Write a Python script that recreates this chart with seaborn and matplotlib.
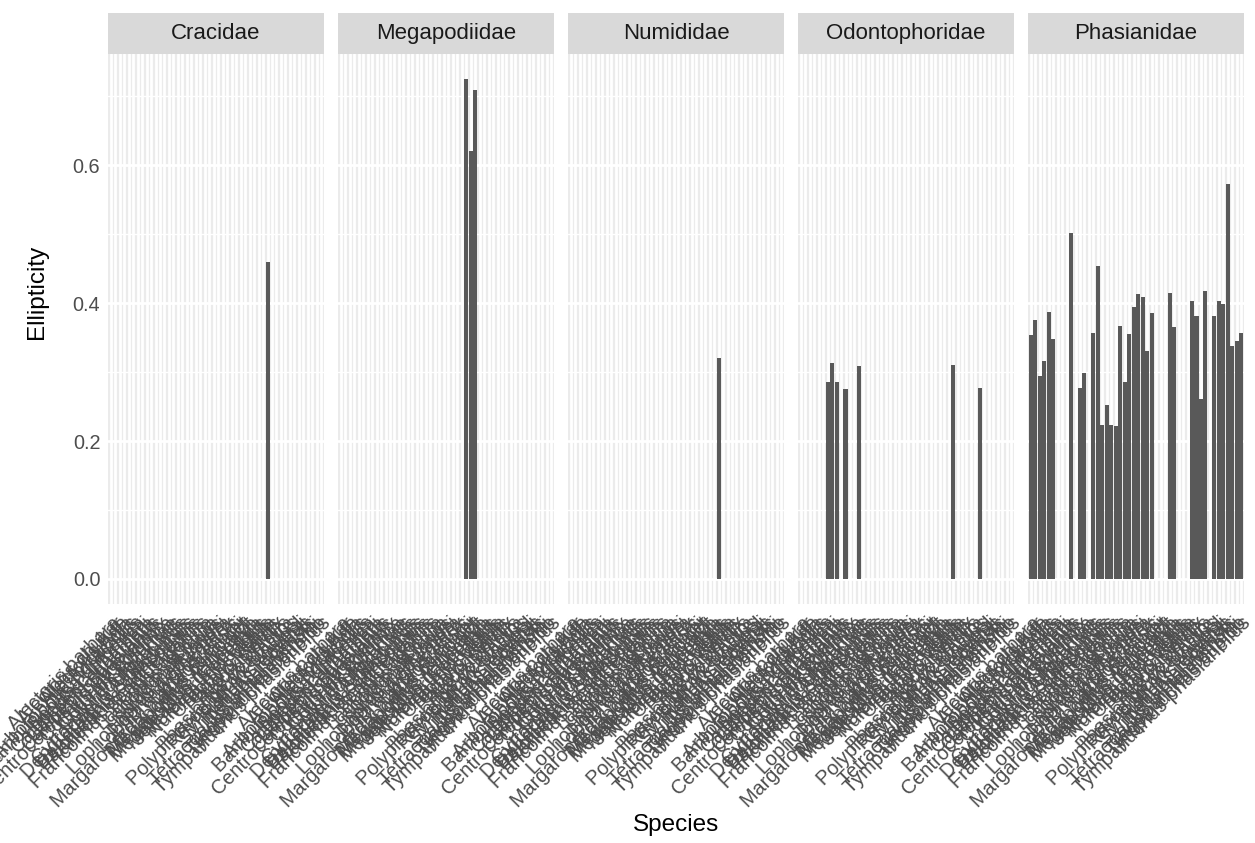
import numpy as np
import pandas as pd
import matplotlib
matplotlib.use("Agg")
import matplotlib.pyplot as plt
import seaborn as sns

species = [
    "Alectoris barbara", "Alectoris chukar", "Alectoris rufa", "Arborophila torqueola",
    "Bambusicola thoracicus", "Bonasa umbellus", "Callipepla californica", "Callipepla gambelii",
    "Callipepla squamata", "Centrocercus urophasianus", "Colinus virginianus", "Coturnix coturnix",
    "Coturnix japonica", "Cyrtonyx montezumae", "Dendragapus fuliginosus", "Dendragapus obscurus",
    "Falcipennis canadensis", "Francolinus francolinus", "Francolinus pondicerianus", "Gallus gallus",
    "Lagopus lagopus", "Lagopus leucura", "Lagopus muta", "Lophophorus impejanus",
    "Lophura edwardsi", "Lophura nycthemera", "Lyrurus tetrix", "Margaroperdix madagarensis",
    "Megapodius cumingii", "Megapodius freycinet", "Megapodius reinwardt", "Meleagris gallopavo",
    "Meleagris ocellata", "Numida meleagris", "Oreortyx pictus", "Ortalis vetula",
    "Pavo cristatus", "Perdix perdix", "Phasianus colchicus", "Polyplectron bicalcaratum",
    "Rhynchortyx cinctus", "Rollulus rouloul", "Syrmaticus reevesii", "Tetrao urogallus",
    "Tetraogallus himalayensis", "Tragopan temminckii", "Tympanuchus cupido", "Tympanuchus phasianellus",
]
family = [
    "Phasianidae", "Phasianidae", "Phasianidae", "Phasianidae",
    "Phasianidae", "Phasianidae", "Odontophoridae", "Odontophoridae",
    "Odontophoridae", "Phasianidae", "Odontophoridae", "Phasianidae",
    "Phasianidae", "Odontophoridae", "Phasianidae", "Phasianidae",
    "Phasianidae", "Phasianidae", "Phasianidae", "Phasianidae",
    "Phasianidae", "Phasianidae", "Phasianidae", "Phasianidae",
    "Phasianidae", "Phasianidae", "Phasianidae", "Phasianidae",
    "Megapodiidae", "Megapodiidae", "Megapodiidae", "Phasianidae",
    "Phasianidae", "Numididae", "Odontophoridae", "Cracidae",
    "Phasianidae", "Phasianidae", "Phasianidae", "Phasianidae",
    "Odontophoridae", "Phasianidae", "Phasianidae", "Phasianidae",
    "Phasianidae", "Phasianidae", "Phasianidae", "Phasianidae",
]
ellipticity = [
    0.354, 0.376, 0.295, 0.316,
    0.387, 0.348, 0.286, 0.313,
    0.286, 0.502, 0.276, 0.277,
    0.299, 0.309, 0.357, 0.454,
    0.224, 0.253, 0.224, 0.222,
    0.367, 0.285, 0.355, 0.395,
    0.413, 0.409, 0.331, 0.386,
    0.725, 0.621, 0.709, 0.415,
    0.366, 0.320, 0.310, 0.459,
    0.403, 0.382, 0.261, 0.418,
    0.277, 0.382, 0.403, 0.399,
    0.573, 0.338, 0.345, 0.357,
]
families = ["Cracidae", "Megapodiidae", "Numididae", "Odontophoridae", "Phasianidae"]
y_ticks = [0.0, 0.2, 0.4, 0.6]
y_tick_labels = ["0.0", "0.2", "0.4", "0.6"]

df = pd.DataFrame({"Species": species, "Family": family, "Ellipticity": ellipticity})

sns.set_style("white")
plt.rcParams["font.family"] = ["Liberation Sans", "DejaVu Sans"]

W, H = 1255, 843
fig = plt.figure(figsize=(W / 100, H / 100), dpi=100)

panel_left = [108, 338, 568, 798, 1028]
pw = 216
ptop, pbot = 54, 604
strip_top = 13

ymax = max(ellipticity)
ylo, yhi = -0.05 * ymax, ymax * 1.05
n = len(species)
tick_fs = 14.3
strip_fs = 16.0
title_fs = 17.5

for i, fam in enumerate(families):
    x0 = panel_left[i]
    ax = fig.add_axes([x0 / W, 1 - pbot / H, pw / W, (pbot - ptop) / H])
    sub = df[df["Family"] == fam]
    sns.barplot(data=sub, x="Species", y="Ellipticity", order=species,
                color="#595959", saturation=1, width=0.9, errorbar=None,
                linewidth=0, ax=ax)
    ax.set_facecolor("#EBEBEB")
    for s in ax.spines.values():
        s.set_visible(False)
    ax.set_xlim(-0.6, n - 1 + 0.6)
    ax.set_ylim(ylo, yhi)
    ax.set_yticks(y_ticks)
    ax.set_yticks([0.1, 0.3, 0.5, 0.7], minor=True)
    ax.set_axisbelow(True)
    ax.grid(which="major", color="white", linewidth=2.0)
    ax.grid(which="minor", axis="y", color="white", linewidth=1.0)
    ax.tick_params(which="minor", length=0)
    ax.tick_params(axis="x", which="major", length=3.9, width=2.0, color="#333333",
                   pad=3.0, labelsize=tick_fs, labelcolor="#4D4D4D")
    ax.set_xticks(range(n))
    ax.set_xticklabels(species, rotation=45, ha="right", va="top",
                       rotation_mode="anchor")
    if i == 0:
        ax.set_yticklabels(y_tick_labels)
        ax.tick_params(axis="y", which="major", length=3.5, width=2.0, color="#333333",
                       pad=2.0, labelsize=tick_fs, labelcolor="#4D4D4D")
    else:
        ax.tick_params(axis="y", which="major", left=False, labelleft=False)
    ax.set_xlabel("")
    ax.set_ylabel("")

    sax = fig.add_axes([x0 / W, 1 - ptop / H, pw / W, (ptop - strip_top) / H])
    sax.set_facecolor("#D9D9D9")
    for s in sax.spines.values():
        s.set_visible(False)
    sax.set_xticks([])
    sax.set_yticks([])
    sax.text(0.5, 0.5, fam, ha="center", va="center", fontsize=strip_fs,
             color="#1A1A1A", transform=sax.transAxes)

fig.text(37 / W, 1 - 292 / H, "Ellipticity", rotation=90, ha="center", va="center",
         fontsize=title_fs, color="black")
fig.text(676 / W, 1 - 825 / H, "Species", ha="center", va="center",
         fontsize=title_fs, color="black")

fig.savefig("out.png", dpi=100, facecolor="white")
